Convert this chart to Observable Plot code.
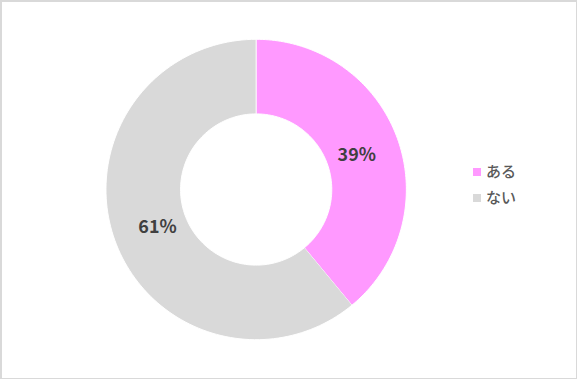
<!DOCTYPE html>
<html><head><meta charset="utf-8">
<script src="https://cdn.jsdelivr.net/npm/d3@7"></script>
<script src="https://cdn.jsdelivr.net/npm/@observablehq/plot@0.6"></script>
<style>
html,body{margin:0;padding:0;background:#fff;}
#wrap{position:relative;width:577px;height:379px;box-sizing:border-box;border:1px solid #d9d9d9;border-left-width:2px;border-top-width:2px;}
#wrap svg{position:absolute;left:-2px;top:-2px;}
#legend{position:absolute;left:471px;top:156px;font-family:"Noto Sans CJK JP",sans-serif;font-size:15px;font-weight:500;color:#595959;line-height:26px;}
#legend .sw{display:inline-block;width:8px;height:8px;margin-right:5px;vertical-align:1px;}
</style></head>
<body><div id="wrap"><div id="legend"></div></div>
<script>
const categories = ["ある", "ない"];
const values = [39, 61];
const labels = ["39%", "61%"];
const colors = ["#FF99FF", "#D9D9D9"];

const innerRatio = 76 / 151;
const pie = d3.pie().sort(null).value(d => d.value);
const arcs = pie(categories.map((c, i) => ({cat: c, value: values[i], label: labels[i]})));

const pts = [];
arcs.forEach((a, k) => {
  const n = 120;
  for (let j = 0; j <= n; j++) {
    const t = a.startAngle + (a.endAngle - a.startAngle) * j / n;
    pts.push({cat: a.data.cat, x: Math.sin(t), y: -Math.cos(t)});
  }
  for (let j = n; j >= 0; j--) {
    const t = a.startAngle + (a.endAngle - a.startAngle) * j / n;
    pts.push({cat: a.data.cat, x: innerRatio * Math.sin(t), y: -innerRatio * Math.cos(t)});
  }
});
const lr = 0.705;
const lab = arcs.map(a => {
  const m = (a.startAngle + a.endAngle) / 2;
  return {label: a.data.label, x: lr * Math.sin(m), y: -lr * Math.cos(m)};
});

const cx = 257, cy = 190, R = 151;
const chart = Plot.plot({
  width: 577, height: 379,
  margin: 0,
  x: {domain: [-1, 1], range: [cx - R, cx + R], axis: null},
  y: {domain: [-1, 1], range: [cy - R, cy + R], axis: null},
  color: {domain: categories, range: colors},
  style: {background: "transparent", overflow: "visible"},
  marks: [
    Plot.line(pts, {x: "x", y: "y", z: "cat", fill: "cat", stroke: "white", strokeWidth: 1, curve: "linear"}),
    Plot.text(lab, {x: "x", y: "y", text: "label", fontSize: 18, fontWeight: "bold", fill: "#404040",
      fontFamily: "'Noto Sans CJK JP', sans-serif", dx: 1, dy: 2})
  ]
});
document.getElementById("wrap").appendChild(chart);

const leg = document.getElementById("legend");
categories.forEach((c, i) => {
  const row = document.createElement("div");
  row.innerHTML = `<span class="sw" style="background:${colors[i]}"></span>${c}`;
  leg.appendChild(row);
});
</script></body></html>
